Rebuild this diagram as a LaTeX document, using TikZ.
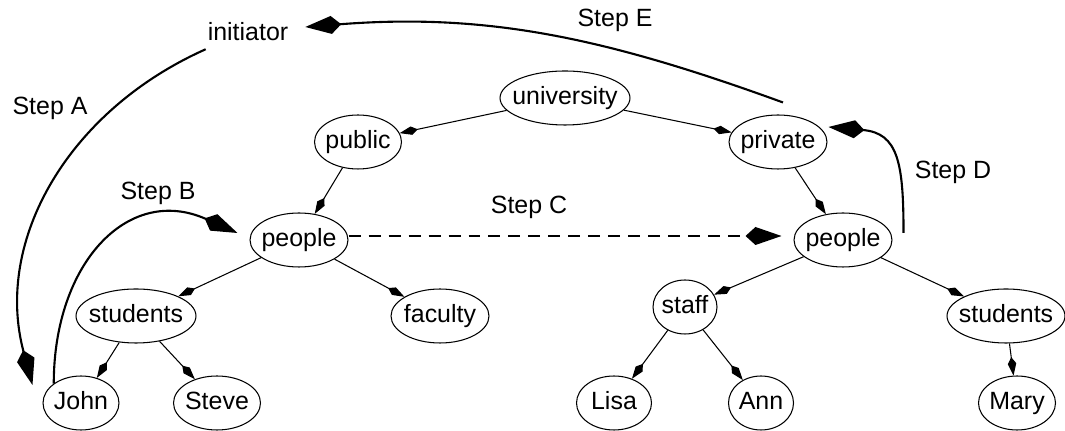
\documentclass[tikz,border=0pt]{standalone}
\usepackage{fontspec}
\setmainfont{Liberation Sans}
\usetikzlibrary{shapes,arrows.meta,positioning}

\tikzset{
    tnode/.style={ellipse, draw, line width=0.6pt, inner xsep=-0.4cm, inner ysep=0pt,
        minimum height=1.08cm, text height=10.5pt, text depth=3pt},
    plain/.style={inner sep=1pt},
    tedge/.style={line width=0.6pt, -{Kite[length=0.37cm, width=0.17cm, inset=0.13cm]}},
    stepline/.style={line width=1.2pt, -{Kite[length=0.72cm, width=0.36cm, inset=0.2cm]}},
}

\begin{document}
\begin{tikzpicture}[x=0.02cm, y=-0.02cm, font=\fontsize{14.2}{17}\selectfont]
    \useasboundingbox (0, 0) rectangle (1065, 431);

    % Tree nodes
    \node[tnode, minimum width=2.6cm] (univ) at (565, 98) {university};
    \node[tnode, minimum width=1.74cm] (public) at (358, 142) {public};
    \node[tnode, minimum width=1.96cm] (private) at (778, 142) {private};
    \node[tnode, minimum width=1.96cm] (peopleL) at (299, 240) {people};
    \node[tnode, minimum width=1.96cm] (peopleR) at (843, 240) {people};
    \node[tnode, minimum width=2.4cm] (studentsL) at (136, 316) {students};
    \node[tnode, minimum width=1.96cm] (faculty) at (440, 316) {faculty};
    \node[tnode, minimum width=1.28cm] (staff) at (685, 307) {staff};
    \node[tnode, minimum width=2.36cm] (studentsR) at (1006, 316) {students};
    \node[tnode, minimum width=1.52cm] (john) at (81, 403) {John};
    \node[tnode, minimum width=1.74cm] (steve) at (217, 403) {Steve};
    \node[tnode, minimum width=1.5cm] (lisa) at (614, 403) {Lisa};
    \node[tnode, minimum width=1.3cm] (ann) at (761, 403) {Ann};
    \node[tnode, minimum width=1.54cm] (mary) at (1017, 403) {Mary};

    % Initiator and step labels
    \node[plain] (init) at (248, 32) {initiator};
    \node[plain] (labA) at (50, 108) {Step A};
    \node[plain] (labB) at (158, 193) {Step B};
    \node[plain] (labC) at (529, 207) {Step C};
    \node[plain] (labD) at (953, 172) {Step D};
    \node[plain] (labE) at (615, 20) {Step E};

    % Tree edges
    \draw[tedge] (univ) -- (public);
    \draw[tedge] (univ) -- (private);
    \draw[tedge] (public) -- (peopleL);
    \draw[tedge] (private) -- (peopleR);
    \draw[tedge] (peopleL) -- (studentsL);
    \draw[tedge] (peopleL) -- (faculty);
    \draw[tedge] (peopleR) -- (staff);
    \draw[tedge] (peopleR) -- (studentsR);
    \draw[tedge] (studentsL) -- (john);
    \draw[tedge] (studentsL) -- (steve);
    \draw[tedge] (staff) -- (lisa);
    \draw[tedge] (staff) -- (ann);
    \draw[tedge] (studentsR) -- (mary);

    % End points of the steps
    \coordinate (startA) at ([shift={(0, 6)}]init.south west);
    \coordinate (tipA) at ([shift={(-10, -18)}]john.west);
    \coordinate (tipB) at ([shift={(-12, -7)}]peopleL.west);
    \coordinate (startD) at ([shift={(11, -7)}]peopleR.east);
    \coordinate (tipD) at ([shift={(1, -15)}]private.east);
    \coordinate (startE) at ([shift={(5, -12)}]private.north);
    \coordinate (tipE) at ([shift={(15, -5)}]init.east);

    % Steps
    \draw[stepline] (startA) .. controls +(204:3cm) and +(105:3cm) .. (tipA);
    \draw[stepline] (john.north west) .. controls +(90:2.4cm) and +(156:2.4cm) .. (tipB);
    \draw[stepline, dash pattern=on 0.24cm off 0.16cm] ([yshift=0.08cm]peopleL.east) -- ([xshift=-0.24cm, yshift=0.08cm]peopleR.west);
    \draw[stepline] (startD) .. controls +(90:1.4cm) and +(-5:1.4cm) .. (tipD);
    \draw[stepline] (startE) .. controls +(160:3.7cm) and +(4.5:3.7cm) .. (tipE);
\end{tikzpicture}
\end{document}
